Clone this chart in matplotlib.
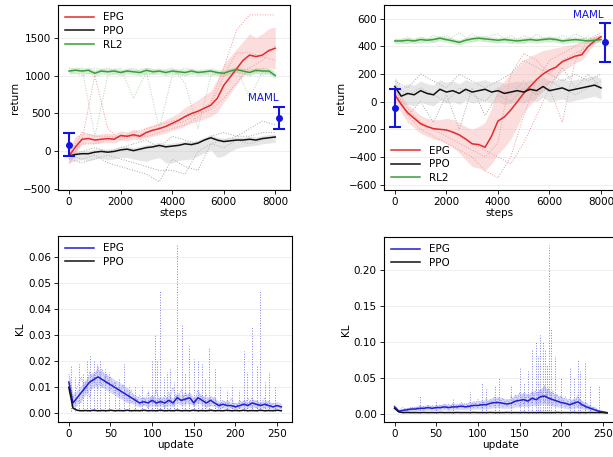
import matplotlib
matplotlib.use("Agg")
import matplotlib.pyplot as plt
import matplotlib.ticker as mticker

plt.rcParams["font.size"] = 7.5

C_EPG = "#e32b2b"
C_PPO = "#111111"
C_RL2 = "#3c9c3c"
C_KL  = "#1f1fd0"
C_MAML = "#1414e0"

# ---------------- top-left: return vs steps ----------------
steps = list(range(0, 8001, 250))
steps_c = list(range(0, 8001, 500))

tl_epg = [-60, 60, 160, 170, 150, 160, 170, 160, 210, 200, 220, 200, 250, 280, 300, 330, 370,
          410, 460, 500, 530, 570, 610, 700, 870, 980, 1090, 1200, 1270, 1250, 1270, 1330, 1360]
tl_epg_lo = [-170, -20, 90, 110, 100, 110, 120, 110, 150, 140, 160, 150, 180, 200, 220, 240, 280,
             300, 340, 370, 400, 430, 460, 520, 650, 760, 880, 1000, 1050, 1050, 1080, 1100, 1100]
tl_epg_hi = [40, 200, 240, 240, 220, 230, 240, 230, 270, 260, 290, 270, 320, 350, 380, 420, 460,
             510, 580, 630, 680, 740, 800, 950, 1150, 1250, 1350, 1450, 1550, 1500, 1550, 1620, 1640]
tl_ppo = [-60, -40, -30, -30, -10, 0, -10, 0, 20, 30, 10, 30, 50, 60, 80, 60, 70,
          80, 100, 90, 110, 150, 180, 150, 130, 140, 150, 150, 160, 150, 170, 180, 190]
tl_ppo_lo = [-150, -120, -110, -120, -100, -90, -110, -100, -80, -80, -100, -120, -130, -100, -80, -150, -150,
             -120, -110, -100, -60, -20, 20, -80, -60, 0, 40, 60, 70, 80, 100, 110, 120]
tl_ppo_hi = [-20, 0, 10, 10, 30, 40, 30, 40, 60, 70, 50, 70, 90, 100, 120, 100, 110,
             120, 140, 130, 150, 190, 220, 190, 170, 180, 190, 190, 200, 190, 210, 220, 230]
tl_rl2 = [1060, 1070, 1060, 1070, 1030, 1060, 1050, 1060, 1040, 1060, 1050, 1040, 1070, 1050, 1060, 1040, 1060,
          1050, 1040, 1060, 1040, 1050, 1060, 1040, 1030, 1060, 1080, 1060, 1040, 1070, 1060, 1060, 1000]
tl_rl2_lo = [1020, 1030, 1020, 1030, 990, 1020, 1010, 1020, 1000, 1020, 1010, 1000, 1030, 1010, 1020, 1000, 1020,
             1010, 1000, 1020, 1000, 1010, 1020, 1000, 990, 1020, 1040, 1020, 1000, 1030, 1020, 1020, 960]
tl_rl2_hi = [1100, 1110, 1100, 1110, 1070, 1100, 1090, 1100, 1080, 1100, 1090, 1080, 1110, 1090, 1100, 1080, 1100,
             1090, 1080, 1100, 1080, 1090, 1100, 1080, 1070, 1100, 1120, 1100, 1080, 1110, 1100, 1100, 1040]
tl_epg_runs = [
    [-50, 250, 200, 200, 180, 250, 300, 350, 400, 450, 500, 650, 1100, 1600, 1800, 1800, 1800],
    [-150, 150, 1000, 300, 150, 200, 200, 250, 300, 350, 450, 600, 1000, 1300, 1300, 1250, 1200],
    [-100, 100, 100, 150, 200, 200, 250, 300, 350, 400, 500, 550, 700, 900, 1100, 1200, 1400],
]
tl_ppo_runs = [
    [-50, -100, -50, -150, -200, -250, -300, -400, -100, -200, -250, 100, 150, 200, 300, 400, 350],
    [-50, 0, 50, 0, 50, 100, 150, 50, 200, 150, 100, 200, 250, 200, 200, 250, 250],
    [-100, -150, -100, -50, -100, -150, -200, -250, -250, -300, 0, 100, 50, 150, 100, 150, 200],
]
tl_rl2_runs = [
    [1050, 1100, 200, 1000, 1050, 1050, 1100, 1050, 1050, 1000, 1050, 1050, 1000, 1050, 1000, 1100, 1050],
    [1100, 1050, 1100, 1050, 1100, 700, 1050, 300, 1000, 1100, 1050, 1000, 1050, 1100, 700, 1050, 1000],
    [1050, 1000, 1050, 1100, 1050, 1100, 1000, 1050, 1100, 900, 300, 1000, 1050, 1050, 1100, 1000, 1100],
]
tl_maml_x = [0, 8150]
tl_maml_y = [90, 440]
tl_maml_err = [150, 150]

# ---------------- top-right: return vs steps ----------------
tr_epg = [50, -20, -80, -120, -160, -180, -195, -200, -205, -220, -240, -270, -305, -310, -330, -250, -140,
          -110, -60, 0, 60, 110, 160, 200, 230, 250, 290, 310, 330, 340, 400, 440, 470]
tr_epg_lo = [0, -80, -150, -190, -230, -250, -270, -280, -300, -330, -370, -420, -470, -480, -500, -450, -380,
             -330, -270, -180, -80, -20, 30, 80, 130, 170, 220, 250, 280, 300, 360, 420, 450]
tr_epg_hi = [100, 40, -20, -60, -100, -120, -130, -130, -120, -130, -150, -180, -200, -180, -150, -50, 100,
             150, 200, 250, 300, 330, 350, 370, 380, 390, 400, 410, 420, 430, 450, 470, 490]
tr_ppo = [110, 40, 60, 50, 80, 60, 50, 90, 70, 80, 60, 90, 70, 80, 90, 70, 80,
          60, 70, 80, 70, 90, 80, 110, 80, 90, 100, 80, 90, 100, 110, 120, 100]
tr_ppo_lo = [40, -30, -20, -30, 0, -20, -30, 10, -10, 0, -20, 10, -10, 0, 10, -10, 0,
             -20, -10, 0, -10, 10, 0, 30, 0, 10, 20, 0, 10, 20, 30, 40, 20]
tr_ppo_hi = [180, 110, 130, 120, 150, 130, 120, 160, 140, 150, 130, 160, 140, 150, 160, 140, 150,
             130, 140, 150, 140, 160, 150, 180, 150, 160, 170, 150, 160, 170, 180, 190, 170]
tr_rl2 = [440, 440, 445, 440, 450, 445, 450, 460, 450, 440, 430, 445, 455, 460, 455, 450, 445,
          450, 445, 440, 445, 450, 445, 450, 455, 450, 440, 445, 450, 445, 440, 445, 450]
tr_rl2_lo = [420, 420, 425, 420, 430, 425, 430, 440, 430, 420, 410, 425, 435, 440, 435, 430, 425,
             430, 425, 420, 425, 430, 425, 430, 435, 430, 420, 425, 430, 425, 420, 425, 430]
tr_rl2_hi = [460, 460, 465, 460, 470, 465, 470, 480, 470, 460, 450, 465, 475, 480, 475, 470, 465,
             470, 465, 460, 465, 470, 465, 470, 475, 470, 460, 465, 470, 465, 460, 465, 470]
tr_epg_runs = [
    [50, -100, -200, -250, -300, -350, -400, -500, -550, -400, -100, 150, 300, 350, 400, 450, 480],
    [60, -50, -150, -200, -250, -300, -350, -400, -300, 200, 350, 300, 200, 300, 350, 400, 450],
    [40, -80, -150, -200, -200, -250, -300, -350, -400, -450, -300, -100, 100, -150, 300, 450, 500],
]
tr_ppo_runs = [
    [150, 100, 200, 150, 100, 200, 150, 100, 150, 200, 300, 250, 200, 150, 200, 150, 200],
    [100, -100, 0, -150, 50, -200, 100, -100, 50, 0, 100, 50, 150, 100, 50, 100, 150],
    [120, 50, 100, 50, 0, 100, 50, 0, 100, 50, 150, 50, 100, 250, 100, 200, 100],
]
tr_rl2_runs = [
    [430, 470, 420, 480, 440, 500, 430, 470, 490, 420, 480, 440, 470, 430, 490, 450, 470],
    [450, 420, 470, 430, 480, 420, 490, 440, 430, 480, 420, 490, 430, 480, 440, 470, 430],
]
tr_maml_x = [0, 8150]
tr_maml_y = [-45, 430]
tr_maml_err = [140, 140]

# ---------------- bottom: KL vs update ----------------
updates = list(range(0, 256, 5))

bl_epg = [0.012, 0.004, 0.006, 0.008, 0.010, 0.012, 0.013, 0.014, 0.013, 0.012, 0.011, 0.010, 0.009,
          0.008, 0.007, 0.006, 0.005, 0.004, 0.0045, 0.004, 0.005, 0.004, 0.0045, 0.004, 0.005, 0.004,
          0.006, 0.005, 0.0055, 0.006, 0.004, 0.006, 0.005, 0.004, 0.005, 0.004, 0.003, 0.0035, 0.003,
          0.003, 0.0025, 0.003, 0.0035, 0.003, 0.004, 0.0035, 0.003, 0.0035, 0.003, 0.0025, 0.003, 0.0025]
bl_epg_lo = [0.008, 0.002, 0.003, 0.005, 0.007, 0.009, 0.010, 0.011, 0.010, 0.009, 0.008, 0.007, 0.006,
             0.005, 0.004, 0.004, 0.003, 0.0025, 0.003, 0.0025, 0.003, 0.0025, 0.003, 0.0025, 0.003, 0.0025,
             0.004, 0.003, 0.0035, 0.004, 0.0025, 0.004, 0.003, 0.0025, 0.003, 0.0025, 0.002, 0.002, 0.002,
             0.002, 0.0015, 0.002, 0.002, 0.002, 0.0025, 0.002, 0.002, 0.002, 0.002, 0.0015, 0.002, 0.0015]
bl_epg_hi = [0.016, 0.007, 0.009, 0.011, 0.013, 0.015, 0.016, 0.017, 0.016, 0.015, 0.014, 0.013, 0.012,
             0.011, 0.010, 0.008, 0.007, 0.006, 0.0065, 0.006, 0.007, 0.006, 0.0065, 0.006, 0.007, 0.006,
             0.008, 0.007, 0.0075, 0.008, 0.006, 0.008, 0.007, 0.006, 0.007, 0.006, 0.0045, 0.005, 0.0045,
             0.0045, 0.004, 0.0045, 0.005, 0.0045, 0.0055, 0.005, 0.0045, 0.005, 0.0045, 0.004, 0.0045, 0.004]
bl_ppo = [0.010, 0.002, 0.0012, 0.001, 0.0011, 0.001, 0.0012, 0.001, 0.0011, 0.001, 0.0012, 0.001, 0.0011,
          0.001, 0.0012, 0.001, 0.0011, 0.001, 0.0012, 0.001, 0.0011, 0.001, 0.0012, 0.001, 0.0011, 0.001,
          0.0012, 0.001, 0.0011, 0.001, 0.0012, 0.001, 0.0011, 0.001, 0.0012, 0.001, 0.0011, 0.001, 0.0012,
          0.001, 0.0011, 0.001, 0.0012, 0.001, 0.0011, 0.001, 0.0012, 0.001, 0.0011, 0.001, 0.0012, 0.001]
bl_epg_runs = [
    [0.015, 0.006, 0.010, 0.014, 0.008, 0.016, 0.012, 0.018, 0.010, 0.015, 0.009, 0.012, 0.007,
     0.011, 0.005, 0.009, 0.004, 0.007, 0.003, 0.008, 0.004, 0.009, 0.003, 0.007, 0.004, 0.010,
     0.005, 0.009, 0.004, 0.008, 0.003, 0.009, 0.004, 0.007, 0.003, 0.006, 0.002, 0.005, 0.003,
     0.006, 0.002, 0.005, 0.003, 0.006, 0.002, 0.005, 0.003, 0.006, 0.002, 0.004, 0.003, 0.002],
    [0.010, 0.003, 0.005, 0.004, 0.012, 0.006, 0.015, 0.009, 0.017, 0.011, 0.014, 0.008, 0.010,
     0.006, 0.009, 0.004, 0.006, 0.003, 0.006, 0.002, 0.007, 0.003, 0.006, 0.002, 0.008, 0.003,
     0.007, 0.004, 0.008, 0.003, 0.006, 0.004, 0.007, 0.002, 0.006, 0.003, 0.004, 0.002, 0.005,
     0.002, 0.004, 0.002, 0.005, 0.003, 0.006, 0.002, 0.004, 0.002, 0.005, 0.002, 0.003, 0.002],
]
bl_spike_x = [3, 8, 12, 17, 22, 26, 30, 34, 38, 43, 48, 55, 60, 66, 72, 80, 88, 95, 100, 103, 106,
              110, 114, 118, 122, 126, 130, 136, 140, 144, 150, 155, 160, 164, 168, 175, 182, 190,
              196, 204, 210, 214, 220, 226, 230, 236, 240, 248]
bl_spike_top = [0.018, 0.014, 0.019, 0.015, 0.020, 0.022, 0.020, 0.019, 0.020, 0.017, 0.016, 0.012,
                0.013, 0.019, 0.011, 0.010, 0.011, 0.009, 0.020, 0.030, 0.020, 0.047, 0.014, 0.016,
                0.017, 0.012, 0.065, 0.034, 0.015, 0.026, 0.021, 0.020, 0.019, 0.013, 0.025, 0.017,
                0.010, 0.009, 0.011, 0.009, 0.024, 0.016, 0.033, 0.018, 0.047, 0.012, 0.016, 0.010]

br_epg = [0.010, 0.004, 0.005, 0.006, 0.007, 0.007, 0.008, 0.008, 0.009, 0.008, 0.009, 0.009, 0.010,
          0.009, 0.010, 0.010, 0.011, 0.010, 0.011, 0.012, 0.012, 0.013, 0.013, 0.015, 0.016, 0.016,
          0.015, 0.014, 0.015, 0.018, 0.019, 0.020, 0.018, 0.022, 0.020, 0.024, 0.025, 0.022, 0.020,
          0.018, 0.016, 0.015, 0.013, 0.015, 0.017, 0.013, 0.010, 0.008, 0.006, 0.004, 0.003, 0.002]
br_epg_lo = [0.007, 0.002, 0.003, 0.003, 0.004, 0.004, 0.005, 0.005, 0.005, 0.005, 0.005, 0.005, 0.006,
             0.005, 0.006, 0.006, 0.006, 0.006, 0.006, 0.007, 0.007, 0.007, 0.007, 0.008, 0.009, 0.009,
             0.008, 0.008, 0.008, 0.010, 0.010, 0.011, 0.010, 0.012, 0.011, 0.013, 0.014, 0.012, 0.011,
             0.010, 0.009, 0.008, 0.007, 0.008, 0.009, 0.007, 0.006, 0.005, 0.004, 0.002, 0.002, 0.001]
br_epg_hi = [0.013, 0.007, 0.008, 0.009, 0.010, 0.011, 0.012, 0.012, 0.013, 0.012, 0.013, 0.013, 0.015,
             0.013, 0.015, 0.015, 0.016, 0.015, 0.016, 0.018, 0.018, 0.019, 0.019, 0.022, 0.024, 0.024,
             0.022, 0.021, 0.022, 0.027, 0.028, 0.030, 0.027, 0.033, 0.030, 0.036, 0.038, 0.033, 0.030,
             0.027, 0.024, 0.022, 0.019, 0.022, 0.025, 0.019, 0.015, 0.012, 0.009, 0.006, 0.004, 0.003]
br_ppo = [0.008, 0.003, 0.002, 0.0022, 0.002, 0.0021, 0.002, 0.0022, 0.002, 0.0021, 0.002, 0.0022, 0.002,
          0.0021, 0.002, 0.0022, 0.002, 0.0021, 0.002, 0.0022, 0.002, 0.0021, 0.002, 0.0022, 0.002, 0.0021,
          0.002, 0.0022, 0.002, 0.0021, 0.002, 0.0022, 0.002, 0.0021, 0.002, 0.0022, 0.002, 0.0021, 0.002,
          0.0022, 0.002, 0.0021, 0.002, 0.0022, 0.002, 0.0021, 0.002, 0.0022, 0.002, 0.0021, 0.002, 0.0015]
br_epg_runs = [
    [0.012, 0.005, 0.009, 0.004, 0.010, 0.006, 0.012, 0.005, 0.013, 0.006, 0.012, 0.007, 0.014,
     0.006, 0.015, 0.007, 0.016, 0.008, 0.017, 0.009, 0.020, 0.008, 0.022, 0.010, 0.024, 0.011,
     0.022, 0.010, 0.025, 0.012, 0.030, 0.013, 0.028, 0.015, 0.035, 0.016, 0.040, 0.015, 0.032,
     0.012, 0.026, 0.010, 0.022, 0.011, 0.026, 0.009, 0.016, 0.006, 0.010, 0.004, 0.004, 0.002],
    [0.009, 0.003, 0.006, 0.008, 0.005, 0.010, 0.006, 0.011, 0.007, 0.012, 0.006, 0.013, 0.007,
     0.014, 0.008, 0.013, 0.009, 0.015, 0.008, 0.017, 0.009, 0.019, 0.010, 0.020, 0.011, 0.022,
     0.010, 0.020, 0.012, 0.026, 0.011, 0.028, 0.014, 0.030, 0.013, 0.034, 0.016, 0.036, 0.013,
     0.028, 0.011, 0.024, 0.009, 0.020, 0.010, 0.018, 0.007, 0.012, 0.005, 0.006, 0.003, 0.002],
]
br_spike_x = [30, 50, 70, 90, 105, 110, 120, 125, 140, 150, 155, 160, 165, 170, 172, 175, 178, 180, 183,
              185, 188, 192, 200, 210, 215, 220, 223, 228, 235, 245]
br_spike_top = [0.025, 0.020, 0.022, 0.030, 0.045, 0.035, 0.040, 0.050, 0.040, 0.065, 0.045, 0.060, 0.090,
                0.100, 0.080, 0.110, 0.100, 0.090, 0.070, 0.235, 0.120, 0.080, 0.050, 0.065, 0.050, 0.075,
                0.060, 0.072, 0.040, 0.040]


def style(ax):
    ax.grid(axis="y", color="#ececec", linewidth=0.6)
    ax.set_axisbelow(True)
    ax.tick_params(length=3, width=0.6, pad=2)
    for s in ax.spines.values():
        s.set_linewidth(0.8)


def return_panel(ax, epg, lo, hi, ppo, plo, phi, rl2, rlo, rhi,
                 eruns, pruns, rruns, mx, my, merr, mtext_xy, legend_loc):
    for r in rruns:
        ax.plot(steps_c, r, color="#9cc59c", lw=0.7, ls=":", alpha=0.8, zorder=1)
    for r in pruns:
        ax.plot(steps_c, r, color="#808080", lw=0.7, ls=":", alpha=0.7, zorder=1)
    for r in eruns:
        ax.plot(steps_c, r, color="#f08a8a", lw=0.7, ls=":", alpha=0.9, zorder=1)
    ax.fill_between(steps, plo, phi, color="#c8c8c8", alpha=0.45, lw=0, zorder=2)
    ax.fill_between(steps, rlo, rhi, color="#a8dca8", alpha=0.45, lw=0, zorder=2)
    ax.fill_between(steps, lo, hi, color="#f7a0a0", alpha=0.35, lw=0, zorder=2)
    ax.plot(steps, epg, color=C_EPG, lw=1.1, label="EPG", zorder=4)
    ax.plot(steps, ppo, color=C_PPO, lw=1.1, label="PPO", zorder=4)
    ax.plot(steps, rl2, color=C_RL2, lw=1.1, label="RL2", zorder=4)
    ax.errorbar(mx, my, yerr=merr, fmt="o", color=C_MAML, ms=4, lw=1.5,
                capsize=4, capthick=1.5, zorder=5)
    ax.text(mtext_xy[0], mtext_xy[1], "MAML", color=C_MAML, ha="center",
            va="bottom", fontsize=7.5, zorder=5)
    ax.set_xlim(-430, 8560)
    ax.set_xticks([0, 2000, 4000, 6000, 8000])
    ax.set_xlabel("steps", labelpad=1)
    ax.set_ylabel("return", labelpad=2)
    ax.legend(loc=legend_loc, frameon=False, handlelength=2.8, borderaxespad=0.3,
              labelspacing=0.35)
    style(ax)


def kl_panel(ax, epg, lo, hi, ppo, runs, sx, stop):
    for r in runs:
        ax.plot(updates, r, color="#6a6ae6", lw=0.6, ls=":", alpha=0.8, zorder=1)
    ax.vlines(sx, 0.001, stop, colors="#5a5ae0", linestyles=":", lw=0.7, alpha=0.8, zorder=1)
    ax.fill_between(updates, lo, hi, color="#8080f0", alpha=0.3, lw=0, zorder=2)
    ax.plot(updates, epg, color=C_KL, lw=1.1, label="EPG", zorder=4)
    ax.plot(updates, ppo, color=C_PPO, lw=1.1, label="PPO", zorder=4)
    ax.set_xlim(-13, 268)
    ax.set_xticks([0, 50, 100, 150, 200, 250])
    ax.set_xlabel("update", labelpad=1)
    ax.set_ylabel("KL", labelpad=2)
    ax.legend(loc="upper left", frameon=False, handlelength=2.8, borderaxespad=0.3,
              labelspacing=0.35)
    ax.yaxis.set_major_formatter(mticker.FormatStrFormatter("%.2f"))
    style(ax)


fig = plt.figure(figsize=(6.13, 4.57), dpi=100)
ax_tl = fig.add_axes([0.0946, 0.584, 0.378, 0.405])
ax_tr = fig.add_axes([0.626, 0.584, 0.378, 0.405])
ax_bl = fig.add_axes([0.0946, 0.0766, 0.382, 0.407])
ax_br = fig.add_axes([0.626, 0.0766, 0.382, 0.405])

return_panel(ax_tl, tl_epg, tl_epg_lo, tl_epg_hi, tl_ppo, tl_ppo_lo, tl_ppo_hi,
             tl_rl2, tl_rl2_lo, tl_rl2_hi, tl_epg_runs, tl_ppo_runs, tl_rl2_runs,
             tl_maml_x, tl_maml_y, tl_maml_err, (7550, 640), "upper left")
ax_tl.set_ylim(-510, 1930)
ax_tl.set_yticks([-500, 0, 500, 1000, 1500])

return_panel(ax_tr, tr_epg, tr_epg_lo, tr_epg_hi, tr_ppo, tr_ppo_lo, tr_ppo_hi,
             tr_rl2, tr_rl2_lo, tr_rl2_hi, tr_epg_runs, tr_ppo_runs, tr_rl2_runs,
             tr_maml_x, tr_maml_y, tr_maml_err, (7500, 590), "lower left")
ax_tr.set_ylim(-640, 700)
ax_tr.set_yticks([-600, -400, -200, 0, 200, 400, 600])

kl_panel(ax_bl, bl_epg, bl_epg_lo, bl_epg_hi, bl_ppo, bl_epg_runs, bl_spike_x, bl_spike_top)
ax_bl.set_ylim(-0.0033, 0.068)
ax_bl.set_yticks([0.0, 0.01, 0.02, 0.03, 0.04, 0.05, 0.06])

kl_panel(ax_br, br_epg, br_epg_lo, br_epg_hi, br_ppo, br_epg_runs, br_spike_x, br_spike_top)
ax_br.set_ylim(-0.011, 0.246)
ax_br.set_yticks([0.0, 0.05, 0.10, 0.15, 0.20])

fig.savefig("out.png", dpi=100)
